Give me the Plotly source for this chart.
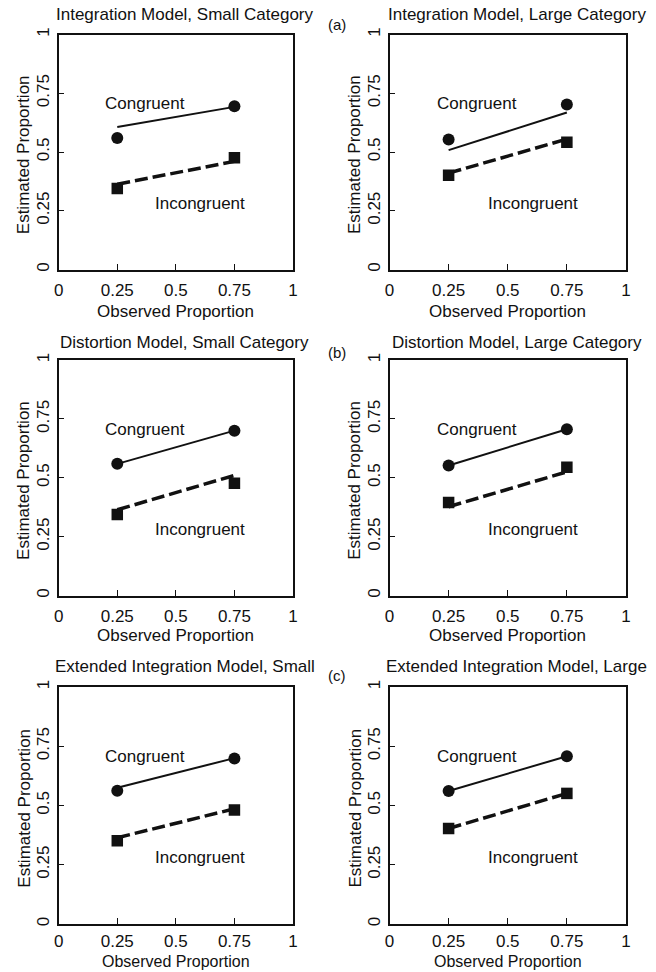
import plotly.graph_objects as go

W, H = 656, 972

panel_titles = [
    "Integration Model, Small Category",
    "Integration Model, Large Category",
    "Distortion Model, Small Category",
    "Distortion Model, Large Category",
    "Extended Integration Model, Small",
    "Extended Integration Model, Large",
]
row_tags = ["(a)", "(b)", "(c)"]

obs_x = [0.25, 0.75]
obs_congruent = [[0.560, 0.695], [0.553, 0.702], [0.559, 0.700],
                 [0.552, 0.706], [0.562, 0.698], [0.561, 0.708]]
obs_incongruent = [[0.345, 0.475], [0.401, 0.542], [0.344, 0.477],
                   [0.395, 0.545], [0.351, 0.481], [0.403, 0.551]]
pred_congruent = [[0.606, 0.692], [0.508, 0.668], [0.559, 0.700],
                  [0.552, 0.706], [0.575, 0.700], [0.561, 0.708]]
pred_incongruent = [[0.363, 0.460], [0.410, 0.555], [0.364, 0.510],
                    [0.377, 0.525], [0.364, 0.486], [0.403, 0.551]]

tick_vals = [0, 0.25, 0.5, 0.75, 1]
tick_text = ["0", "0.25", "0.5", "0.75", "1"]
label_congruent = ("Congruent", 0.37, 0.705)
label_incongruent = ("Incongruent", 0.605, 0.28)
x_title = "Observed Proportion"
y_title = "Estimated Proportion"

# layout in pixels
cols = [(58.7, 293.0), (389.5, 626.0)]
rows = [(34.5, 269.5), (360.0, 595.5), (687.0, 924.0)]
title_y = [15, 342, 666]
tag_y = [25, 352, 675]
xtitle_gap = [42, 40, 37]
xtick_standoff = [4, 4, 1]
xtitle_size = [17, 17, 16]

FONT = "Liberation Sans, Arial, sans-serif"
FS = 17
INK = "#111111"

fig = go.Figure()
annotations = []

for i in range(6):
    r, c = divmod(i, 2)
    l, rr = cols[c]
    t, b = rows[r]
    ax = "" if i == 0 else str(i + 1)
    xref, yref = "x" + ax, "y" + ax

    fig.add_trace(go.Scatter(x=obs_x, y=pred_congruent[i], mode="lines",
                             line=dict(color=INK, width=2), xaxis=xref, yaxis=yref,
                             showlegend=False, hoverinfo="skip"))
    fig.add_trace(go.Scatter(x=obs_x, y=pred_incongruent[i], mode="lines",
                             line=dict(color=INK, width=3.5, dash="13px,5px"),
                             xaxis=xref, yaxis=yref, showlegend=False, hoverinfo="skip"))
    fig.add_trace(go.Scatter(x=obs_x, y=obs_congruent[i], mode="markers",
                             marker=dict(symbol="circle", size=12, color=INK),
                             xaxis=xref, yaxis=yref, showlegend=False))
    fig.add_trace(go.Scatter(x=obs_x, y=obs_incongruent[i], mode="markers",
                             marker=dict(symbol="square", size=11.5, color=INK),
                             xaxis=xref, yaxis=yref, showlegend=False))

    xd = [l / W, rr / W]
    yd = [1 - b / H, 1 - t / H]
    common = dict(range=[0, 1], tickvals=tick_vals, ticktext=tick_text,
                  showline=True, linecolor=INK, linewidth=1.5, mirror=True,
                  showgrid=False, zeroline=False, ticks="inside", ticklen=6,
                  tickwidth=1, tickcolor=INK,
                  tickfont=dict(family=FONT, size=FS, color=INK),
                  fixedrange=True, automargin=False)
    fig.layout["xaxis" + ax] = dict(domain=xd, anchor=yref,
                                    ticklabelstandoff=xtick_standoff[r], **common)
    fig.layout["yaxis" + ax] = dict(domain=yd, anchor=xref, tickangle=-90,
                                    ticklabelstandoff=1, **common)

    # in-plot labels
    for txt, lx, ly in (label_congruent, label_incongruent):
        annotations.append(dict(text=txt, x=lx, y=ly, xref=xref, yref=yref,
                                showarrow=False, font=dict(family=FONT, size=FS, color=INK)))
    # panel title
    annotations.append(dict(text=panel_titles[i], x=((l + rr) / 2 + 9) / W,
                            y=1 - title_y[r] / H, xref="paper", yref="paper",
                            showarrow=False, xanchor="center", yanchor="middle",
                            font=dict(family=FONT, size=FS, color=INK)))
    # axis titles
    annotations.append(dict(text=x_title, x=(l + rr) / 2 / W, y=1 - (b + xtitle_gap[r]) / H,
                            xref="paper", yref="paper", showarrow=False,
                            xanchor="center", yanchor="middle",
                            font=dict(family=FONT, size=xtitle_size[r], color=INK)))
    annotations.append(dict(text=y_title, x=(l - 34.5) / W, y=1 - ((t + b) / 2 + 3) / H,
                            xref="paper", yref="paper", showarrow=False, textangle=-90,
                            xanchor="center", yanchor="middle",
                            font=dict(family=FONT, size=FS, color=INK)))

for r in range(3):
    annotations.append(dict(text=row_tags[r], x=337 / W, y=1 - tag_y[r] / H,
                            xref="paper", yref="paper", showarrow=False,
                            xanchor="center", yanchor="middle",
                            font=dict(family=FONT, size=15, color=INK)))

fig.update_layout(width=W, height=H, margin=dict(l=0, r=0, t=0, b=0),
                  paper_bgcolor="white", plot_bgcolor="white",
                  annotations=annotations, showlegend=False)

fig.write_html("out.html")
